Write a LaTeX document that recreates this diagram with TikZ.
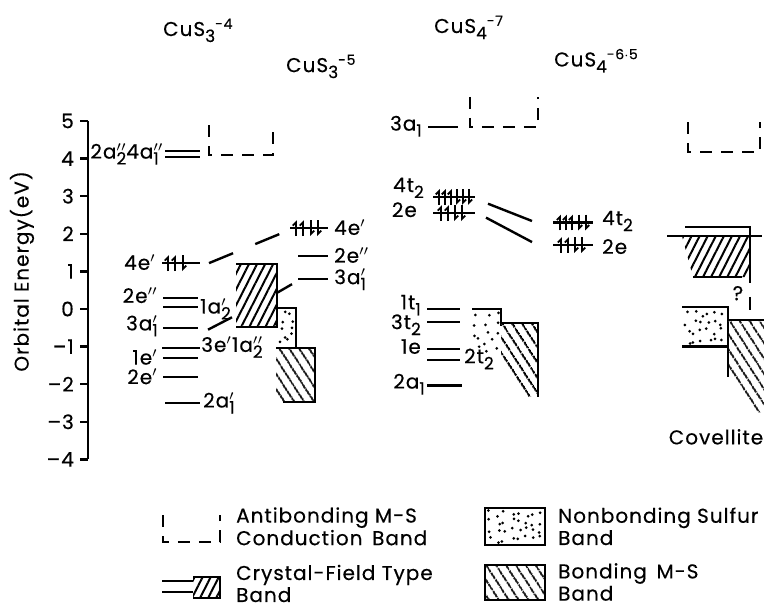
\documentclass[tikz,border=0pt]{standalone}
\usepackage{fontspec}
\setmainfont{Poppins}[LetterSpace=5, FakeBold=0.35]
\usetikzlibrary{arrows.meta, patterns.meta}

% lowered index and stacked prime/index for orbital names
\newcommand{\dn}[1]{\raisebox{-0.55ex}{\fontsize{8.5}{9}\selectfont #1}}
\newcommand{\orb}[3]{#1\rlap{$#2$}\dn{#3}}
% one electron mark: x, energy, +1 up / -1 down
\newcommand{\spin}[3]{\draw[elec] (#1,#2) ++(0,{-0.21*(#3)}) -- ++(0,{0.42*(#3)});}
% jittered dots in a box: x1, E1, x2, E2, columns, rows
\newcommand{\sprinkle}[6]{%
  \foreach \i in {1,...,#5}{\foreach \j in {1,...,#6}{%
    \pgfmathsetmacro\rx{#1+(\i-0.5+0.4*rand)*(#3-#1)/#5}%
    \pgfmathsetmacro\ry{#2+(\j-0.5+0.4*rand)*(#4-#2)/#6}%
    \fill (\rx,\ry) circle[radius=0.75pt];}}}

\begin{document}
\begin{tikzpicture}[
  x=0.5pt, y=18.8pt,
  line width=1.2pt,
  lbl/.style={font=\fontsize{10}{10.5}\selectfont, inner sep=1.5pt},
  ttl/.style={font=\fontsize{10}{10.5}\selectfont, inner sep=0pt},
  lgd/.style={font=\fontsize{10}{9.2}\selectfont, align=left, anchor=west, inner sep=0pt},
  elec/.style={line width=1pt, -{Straight Barb[harpoon,length=1.6pt,width=3.2pt,line width=0.9pt]}},
  cband/.style={line width=1.2pt, dash pattern=on 6pt off 4.5pt},
  cfband/.style={pattern={Lines[angle=63,distance=3.6pt,line width=1pt]}},
  bband/.style={pattern={Lines[angle=-57,distance=4pt,line width=1pt]}},
]
\useasboundingbox (0,8.218) rectangle (764,-8.005);
\pgfmathsetseed{4711}

% --- energy axis ---
\draw (88,5) -- (88,-4);
\foreach \e in {5,4,...,0}
  \draw (80,\e) -- (88,\e) node[lbl, left=5pt] (tk\e) {\e};
\foreach \e in {1,...,4}
  \draw (80,-\e) -- (88,-\e) node[lbl, left=5pt] (tkm\e) {\textendash\e};
\node[lbl, rotate=90] (ylab) at (22,1.0) {Orbital Energy(eV)};

% --- titles ---
\node[ttl, anchor=base west] (t1) at (162,7.26) {CuS\dn{3}\textsuperscript{-4}};
\node[ttl, anchor=base west] (t2) at (285,6.30) {CuS\dn{3}\textsuperscript{-5}};
\node[ttl, anchor=base west] (t3) at (433,7.34) {CuS\dn{4}\textsuperscript{-7}};
\node[ttl, anchor=base west] (t4) at (553,6.45) {CuS\dn{4}\textsuperscript{-6$\cdot$5}};

% --- CuS3(-4) ---
\draw[cband] (209,4.89) -- (209,4.1) -- (273,4.1) -- (273,4.89);
\draw (165,4.2) -- (200,4.2);
\draw (165,4.05) -- (200,4.05);
\node[lbl, left] (a4a) at (163,4.12) {\orb{2a}{''}{2}\orb{4a}{''}{1}};
\draw (162,1.22) -- (200,1.22);
\foreach \x/\d in {168/1,175/1,183/-1} \spin{\x}{1.22}{\d};
\node[lbl, left] (a4e) at (160,1.24) {4e$'$};
\draw (163,0.3) -- (198,0.3);
\node[lbl, left] (a2ee) at (162,0.36) {2e$''$};
\draw (163,0.05) -- (198,0.05);
\node[lbl, right, inner sep=0pt] (a1a) at (199,0.0) {\orb{1a}{'}{2}};
\draw (163,-0.5) -- (198,-0.5);
\node[lbl, left] (a3a) at (162,-0.45) {\orb{3a}{'}{1}};
\coordinate (a3aR) at (208,-0.55);
\coordinate (a3aT) at (232,-0.22);
\draw (a3aR) -- (a3aT);
\draw (162,-1.04) -- (200,-1.04);
\node[lbl, right, inner sep=0pt] (a3e) at (200,-1.02) {3e$'$\orb{1a}{''}{2}};
\draw (163,-1.3) -- (198,-1.3);
\node[lbl, left] (a1e) at (162,-1.28) {1e$'$};
\draw (163,-1.81) -- (198,-1.81);
\node[lbl, left] (a2e) at (162,-1.8) {2e$'$};
\draw (165,-2.5) -- (200,-2.5);
\node[lbl, right, inner sep=1pt] (a2a) at (200,-2.5) {\orb{2a}{'}{1}};

% --- CuS3(-5) ---
\fill[cfband] (236,1.2) rectangle (277,-0.48);
\draw (236,1.2) -- (277,1.2) -- (277,-0.48) -- (236,-0.48);
\sprinkle{279}{-0.05}{294}{-0.97}{2}{5}
\draw (277,0.03) -- (296,0.03) -- (296,-1.03);
\fill[bband] (276,-1.03) rectangle (315,-2.47);
\draw (276,-1.03) -- (315,-1.03) -- (315,-2.47) -- (283,-2.47);
\draw (290,2.15) -- (328,2.15);
\foreach \x/\d in {296/1,303/1,311/-1,318/-1} \spin{\x}{2.15}{\d};
\node[lbl, right] (b4e) at (330,2.17) {4e$'$};
\draw (298,1.41) -- (328,1.41);
\node[lbl, right] (b2e) at (330,1.43) {2e$''$};
\draw (298,0.8) -- (328,0.8);
\node[lbl, right] (b3a) at (330,0.78) {\orb{3a}{'}{1}};
\coordinate (bCF) at (277,0.43);
\coordinate (b3aL) at (292,0.66);
\draw (bCF) -- (b3aL);
% 4e' correlation
\coordinate (a4eR) at (209,1.22);
\coordinate (b4eL) at (282,2.02);
\draw[dash pattern=on 13pt off 12pt] (a4eR) -- (b4eL);

% --- CuS4(-7) ---
\draw[cband] (470,5.64) -- (470,4.84) -- (538,4.84) -- (538,5.64);
\draw (428,4.84) -- (458,4.84);
\node[lbl, left] (c3a) at (426,4.86) {3a\dn{1}};
\draw (433,2.98) -- (475,2.98);
\foreach \x/\d in {439/1,445/1,451/1,457/-1,463/-1,469/-1} \spin{\x}{2.98}{\d};
\node[lbl, left] (c4t) at (428,3.22) {4t\dn{2}};
\draw (433,2.55) -- (475,2.55);
\foreach \x/\d in {441/1,448/1,455/-1,462/-1} \spin{\x}{2.55}{\d};
\node[lbl, left] (c2e) at (421,2.64) {2e};
\begin{scope}
  \clip (472,0) -- (501,0) -- (501,-1.1) -- (488,-1.2) -- (472,-0.9) -- cycle;
  \sprinkle{473}{-0.05}{500}{-1.2}{3}{5}
\end{scope}
\draw (472,0) -- (501,0) -- (501,-0.45);
\fill[bband] (501,-0.37) -- (538,-0.37) -- (538,-2.34) -- (522,-2.34) -- (501,-1.25) -- cycle;
\draw (501,-0.37) -- (538,-0.37) -- (538,-2.34);
\draw (427,0) -- (460,0);
\node[lbl, left] (c1t) at (425,0.1) {1t\dn{1}};
\draw (427,-0.35) -- (460,-0.35);
\node[lbl, left] (c3t) at (425,-0.42) {3t\dn{2}};
\draw (427,-1.07) -- (460,-1.07);
\node[lbl, left] (c1e) at (425,-1.0) {1e};
\draw (427,-1.36) -- (460,-1.36);
\node[lbl, right, inner sep=1pt] (c2t) at (461,-1.33) {2t\dn{2}};
\draw (427,-2.03) -- (462,-2.03);
\node[lbl, left, inner sep=0.5pt] (c2a) at (427,-2.0) {2a\dn{1}};

% --- CuS4(-6.5) ---
\draw (553,2.3) -- (593,2.3);
\foreach \x/\d in {560/1,566/1,572/1,579/-1,586/-1} \spin{\x}{2.3}{\d};
\node[lbl, right] (d4t) at (598,2.34) {4t\dn{2}};
\draw (553,1.7) -- (593,1.7);
\foreach \x/\d in {561/1,568/1,575/-1,582/-1} \spin{\x}{1.7}{\d};
\node[lbl, right] (d2e) at (598,1.66) {2e};
\coordinate (c4tR) at (488,2.8);
\coordinate (d4tL) at (532,2.34);
\coordinate (c2eR) at (486,2.43);
\coordinate (d2eL) at (532,1.78);
\draw (c4tR) -- (d4tL);
\draw (c2eR) -- (d2eL);

% --- Covellite ---
\draw[cband] (688,4.97) -- (688,4.18) -- (760,4.18) -- (760,4.97);
\fill[cfband] (682,1.94) -- (750,1.94) -- (750,0.85) -- (693,0.85) -- cycle;
\draw (685,2.18) -- (750,2.18) -- (750,0.7);
\draw (667,1.94) -- (762,1.94);
\draw (693,0.85) -- (742,0.85);
\draw (750,0.32) -- (750,-0.03);
\node[lbl] (eq) at (738,0.42) {?};
\sprinkle{684}{-0.02}{726}{-0.95}{6}{4}
\draw (682,0.05) -- (728,0.05) -- (728,-1.0) -- (682,-1.0);
\fill[bband] (728,-0.3) -- (764,-0.3) -- (764,-2.75) -- (755,-2.75) -- (728,-1.6) -- cycle;
\draw (728,-0.3) -- (764,-0.3);
\draw (728,-1.0) -- (728,-1.8);
\node[lbl] (cov) at (716,-3.4) {Covellite};

% --- legend ---
\draw[cband] (163,-5.48) -- (163,-6.2) -- (220,-6.2) -- (220,-5.48);
\node[lgd] (lg1) at (235,-5.78) {Antibonding M-S\\Conduction \,Band};
\draw (162,-7.23) -- (193,-7.23);
\draw (162,-7.53) -- (193,-7.53);
\fill[cfband] (193,-7.13) rectangle (220,-7.69);
\draw (193,-7.13) -- (220,-7.13) -- (220,-7.69) -- (193,-7.69);
\node[lgd] (lg2) at (235,-7.3) {Crystal-Field Type\\Band};
\sprinkle{487}{-5.33}{543}{-6.24}{8}{4}
\draw (485,-5.29) rectangle (545,-6.28);
\node[lgd] (lg3) at (557,-5.78) {Nonbonding Sulfur\\Band};
\fill[bband] (485,-6.81) rectangle (545,-7.74);
\draw (485,-6.81) rectangle (545,-7.74);
\node[lgd] (lg4) at (557,-7.26) {Bonding \,M-S\\Band};
\end{tikzpicture}
\end{document}
